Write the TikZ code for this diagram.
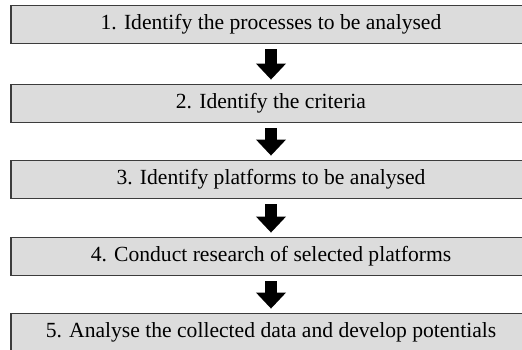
\documentclass[tikz,border=0pt]{standalone}
\usepackage{fontspec}
\setmainfont{Liberation Serif}
\usetikzlibrary{arrows.meta}
\definecolor{boxfill}{HTML}{DCDCDC}
\definecolor{boxline}{HTML}{3C3C3C}
\tikzset{
  stepbox/.style={draw=boxline, line width=1.8pt, fill=boxfill,
    minimum width=520pt, minimum height=38pt, inner sep=0pt,
    font=\fontsize{21.6pt}{24pt}\selectfont},
  flowarrow/.style={line width=12pt, black,
    -{Triangle[width=29pt,length=16pt]},
    shorten <=5pt, shorten >=4pt}
}
\begin{document}
\begin{tikzpicture}[x=1pt,y=1pt]
\useasboundingbox (0,0) rectangle (522,349);
\clip (0,0) rectangle (522,349);
\node[stepbox] (s1) at (271,324.5) {1. Identify the processes to be analysed};
\node[stepbox] (s2) at (271,245.5) {2. Identify the criteria};
\node[stepbox] (s3) at (271,169.5) {3. Identify platforms to be analysed};
\node[stepbox] (s4) at (271,92.5) {4. Conduct research of selected platforms};
\node[stepbox] (s5) at (271,16.5) {5. Analyse the collected data and develop potentials};
\draw[flowarrow] (s1.south) -- (s2.north);
\draw[flowarrow] (s2.south) -- (s3.north);
\draw[flowarrow] (s3.south) -- (s4.north);
\draw[flowarrow] (s4.south) -- (s5.north);
\end{tikzpicture}
\end{document}
